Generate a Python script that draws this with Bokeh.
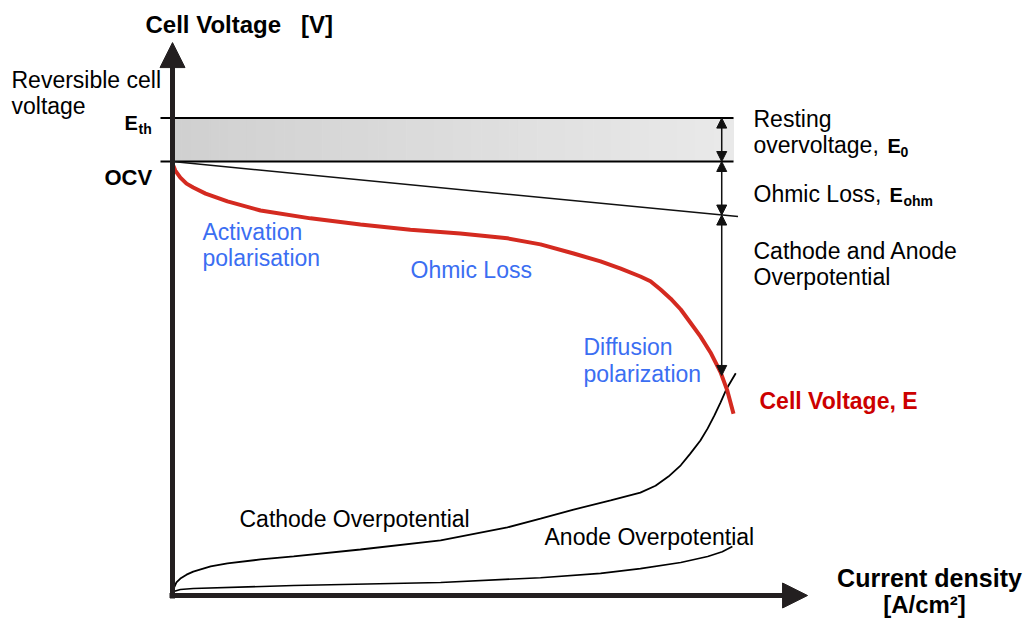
import numpy as np
from bokeh.plotting import figure
from bokeh.models import Label, Arrow, NormalHead, Range1d
from bokeh.embed import file_html
from bokeh.resources import INLINE

# ---------------- data (schematic) ----------------
# polarisation curve: current density [arb. A/cm2] vs cell voltage [arb. V]
current_cell = [0.000, 0.005, 0.014, 0.025, 0.037, 0.059, 0.098, 0.157, 0.246, 0.335,
                0.424, 0.513, 0.597, 0.656, 0.715, 0.763, 0.799, 0.834, 0.852, 0.870,
                0.888, 0.906, 0.923, 0.941, 0.959, 0.977, 0.989, 1.000]
cell_voltage = [0.995, 0.979, 0.963, 0.949, 0.940, 0.926, 0.908, 0.887, 0.869, 0.855,
                0.843, 0.834, 0.823, 0.809, 0.788, 0.770, 0.753, 0.735, 0.724, 0.705,
                0.684, 0.659, 0.629, 0.597, 0.560, 0.514, 0.472, 0.419]

current_cathode = [0.000, 0.002, 0.007, 0.014, 0.025, 0.037, 0.068, 0.098, 0.157, 0.216,
                   0.335, 0.478, 0.597, 0.656, 0.715, 0.781, 0.834, 0.861, 0.884, 0.906,
                   0.923, 0.941, 0.954, 0.966, 0.977, 0.988, 1.004]
cathode_overpotential = [0.000, 0.016, 0.030, 0.039, 0.048, 0.055, 0.067, 0.074, 0.083, 0.090,
                         0.106, 0.127, 0.157, 0.177, 0.198, 0.219, 0.237, 0.253, 0.274, 0.300,
                         0.327, 0.357, 0.385, 0.415, 0.445, 0.477, 0.512]

current_anode = [0.000, 0.002, 0.014, 0.037, 0.216, 0.478, 0.656, 0.763, 0.834, 0.906,
                 0.954, 0.980, 0.998]
anode_overpotential = [0.000, 0.009, 0.014, 0.016, 0.023, 0.030, 0.041, 0.051, 0.062, 0.076,
                       0.090, 0.101, 0.113]

E_TH = 1.10          # reversible cell voltage
OCV = 1.00           # open circuit voltage
ohmic_current = [0.000, 1.008]
ohmic_voltage = [1.000, 0.873]
band_end = 1.0       # right end of the reference lines / band
dim_x = 0.979        # position of the dimension arrows
x_axis_tip = 1.132
y_axis_tip = 1.274

# ---------------- layout ----------------
W, H = 1027, 619
OX, OY = 172, 595    # page pixel of the origin
XS, YS = 561.0, 434.0


def dx(px):
    return (px - OX) / XS


def dy(py):
    return (OY - py) / YS


p = figure(width=W, height=H, output_backend="svg", toolbar_location=None,
           x_range=Range1d(dx(0), dx(W)), y_range=Range1d(dy(H), dy(0)),
           x_axis_type=None, y_axis_type=None, min_border=0,
           outline_line_color=None, background_fill_color="white")
p.grid.visible = False

# gray gradient band between OCV and E_th
n = 60
edges = np.linspace(0, band_end, n + 1)
cols = []
for i in range(n):
    t = i / (n - 1)
    g = int(round(208 + 25 * t))
    cols.append("#%02x%02x%02x" % (g, g, g))
p.quad(left=edges[:-1], right=edges[1:], bottom=OCV, top=E_TH,
       fill_color=cols, line_color=cols, line_width=1)

AX = "#231f20"
p.segment(x0=[dx(160), dx(160)], y0=[E_TH, OCV], x1=[band_end, band_end], y1=[E_TH, OCV],
          line_color="black", line_width=2)
p.line(ohmic_current, ohmic_voltage, line_color="#111111", line_width=1.5)

# curves
p.line(current_anode, anode_overpotential, line_color="black", line_width=1.6)
p.line(current_cathode, cathode_overpotential, line_color="black", line_width=1.8)
p.line(current_cell, cell_voltage, line_color="#d42a20", line_width=4)

# axes with arrow heads
p.segment(x0=[0, dx(169)], y0=[dy(598), 0], x1=[0, x_axis_tip - 20 / XS],
          y1=[y_axis_tip - 20 / YS, 0], line_color=AX, line_width=5)
p.add_layout(Arrow(end=NormalHead(size=25, fill_color=AX, line_color=AX),
                   x_start=0, y_start=y_axis_tip - 0.06, x_end=0, y_end=y_axis_tip,
                   line_alpha=0))
p.add_layout(Arrow(end=NormalHead(size=25, fill_color=AX, line_color=AX),
                   x_start=x_axis_tip - 0.06, y_start=0, x_end=x_axis_tip, y_end=0,
                   line_alpha=0))

# dimension arrows
ohm_at = float(np.interp(dim_x, ohmic_current, ohmic_voltage))
cell_at = float(np.interp(dim_x, current_cell, cell_voltage))
for ya, yb in [(E_TH, OCV), (OCV, ohm_at), (ohm_at, cell_at)]:
    p.add_layout(Arrow(start=NormalHead(size=10, fill_color="#111", line_color="#111"),
                       end=NormalHead(size=10, fill_color="#111", line_color="#111"),
                       x_start=dim_x, y_start=ya, x_end=dim_x, y_end=yb,
                       line_color="#111", line_width=1.5))

# ---------------- texts ----------------
BLUE = "#3b6ef2"
RED = "#cc0000"
FONT = "Liberation Sans"


def lab(text, px, py, size=23, bold=False, color="black", align="left"):
    # py is the wanted baseline (page px); compensate the renderer's baseline shift
    p.add_layout(Label(x=dx(px), y=dy(py - 0.37 * size), text=text, text_font=FONT,
                       text_font_size="%dpx" % size,
                       text_font_style="bold" if bold else "normal",
                       text_color=color, text_align=align, text_baseline="alphabetic"))


lab("Cell Voltage\u00a0\u00a0\u00a0[V]", 145, 33, 24, True)
lab("Reversible cell", 11, 88)
lab("voltage", 11, 114)
lab("E", 124, 130, 20, True)
lab("th", 138, 134, 14, True)
lab("OCV", 104, 185, 22, True)

lab("Resting", 753, 127)
lab("overvoltage,", 753, 153)
lab("E", 887, 153, 20, True)
lab("0", 900, 157, 14, True)
lab("Ohmic Loss,", 753, 202)
lab("E", 889, 202, 20, True)
lab("ohm", 903, 206, 14, True)
lab("Cathode and Anode", 753, 259)
lab("Overpotential", 753, 285)

lab("Activation", 202, 240, color=BLUE)
lab("polarisation", 202, 266, color=BLUE)
lab("Ohmic Loss", 410, 278, color=BLUE)
lab("Diffusion", 583, 355, color=BLUE)
lab("polarization", 583, 382, color=BLUE)
lab("Cell Voltage, E", 759, 409, 23, True, RED)

lab("Cathode Overpotential", 239, 527)
lab("Anode Overpotential", 544, 545)
lab("Current density", 929, 587, 25, True, align="center")
lab("[A/cm\u00b2]", 924, 613, 24, True, align="center")

open("out.html", "w").write(file_html(p, INLINE))
